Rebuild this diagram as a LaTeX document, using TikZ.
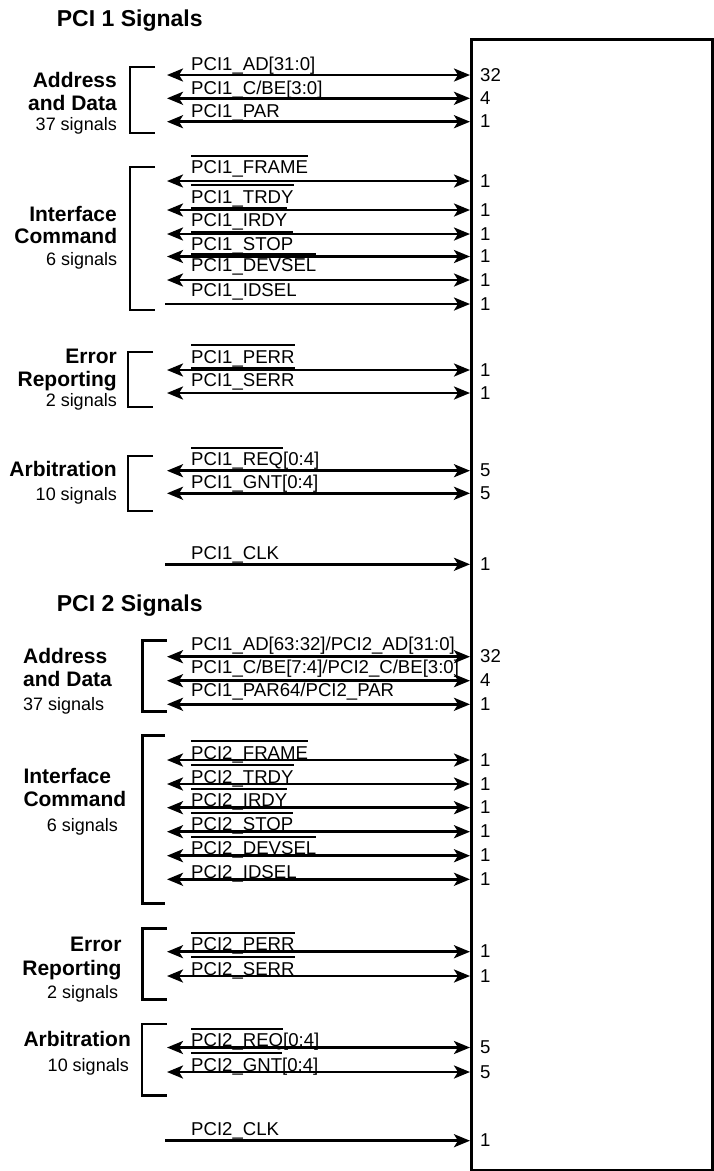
\documentclass[tikz,border=0pt]{standalone}
\usepackage{fontspec}
\setmainfont{Liberation Sans}
\usetikzlibrary{arrows.meta}
\newsavebox\olbox
\newcommand\olt[1]{\sbox\olbox{#1}\rlap{\rule[16.7pt]{\wd\olbox}{1.9pt}}\usebox\olbox}
% double-headed signal row: name, y, label, label baseline, width number
\newcommand\drow[5]{%
  \coordinate (#1) at (167,#2);
  \draw[bidir] (#1) -- (#1 -| box.west);
  \node[sig] (#1t) at (191,#4) {#3};
  \node[num] (#1n) at (480,#2+6) {#5};}
% input-only signal row
\newcommand\srow[5]{%
  \coordinate (#1) at (165,#2);
  \draw[unidir] (#1) -- (#1 -| box.west);
  \node[sig] (#1t) at (191,#4) {#3};
  \node[num] (#1n) at (480,#2+6) {#5};}
\begin{document}
\begin{tikzpicture}[x=1pt,y=-1pt,
  sig/.style={anchor=base west,inner sep=0pt,font=\fontsize{18.6}{20}\selectfont},
  num/.style={anchor=base west,inner sep=0pt,font=\fontsize{18.6}{20}\selectfont},
  grp/.style={inner sep=0pt,font=\fontsize{21}{24}\selectfont\bfseries},
  cnt/.style={inner sep=0pt,font=\fontsize{18}{20}\selectfont},
  ttl/.style={anchor=base west,inner sep=0pt,font=\fontsize{23}{26}\selectfont\bfseries},
  tip/.tip={Stealth[length=16pt,width=13pt,inset=4pt]},
  bidir/.style={line width=2.6pt,tip-tip},
  unidir/.style={line width=2.6pt,-tip},
  brk/.style={line width=2.6pt},
]
\useasboundingbox (0,0) rectangle (713,1171);
\node[draw,line width=2.6pt,minimum width=241pt,minimum height=1131pt,anchor=north west,inner sep=0pt] (box) at (470,38) {};

% ---------------- PCI 1 ----------------
\node[ttl] (t1) at (56.7,26) {PCI 1 Signals};

\draw[brk] (155,67) -| (130,133) -- (155,133);
\node[grp,anchor=base east] (g1a) at (117,87) {Address};
\node[grp,anchor=base east] (g1b) at (117,110) {and Data};
\node[cnt,anchor=base east] (g1c) at (117,130) {37 signals};
\drow{a1}{75}{PCI1\_AD[31:0]}{70.7}{32}
\drow{a2}{98.3}{PCI1\_C/BE[3:0]}{94}{4}
\drow{a3}{121.7}{PCI1\_PAR}{117}{1}

\draw[brk] (155,167) -| (130,310) -- (155,310);
\node[grp,anchor=base east] (g2a) at (117,221.7) {Interface};
\node[grp,anchor=base east] (g2b) at (117.3,243.3) {Command};
\node[cnt,anchor=base east] (g2c) at (117.3,265) {6 signals};
\drow{c1}{181}{\olt{PCI1\_FRAME}}{173.3}{1}
\drow{c2}{210}{\olt{PCI1\_TRDY}}{203}{1}
\drow{c3}{234}{\olt{PCI1\_IRDY}}{226}{1}
\drow{c4}{256.5}{\olt{PCI1\_STOP}}{250}{1}
\drow{c5}{280}{\olt{PCI1\_DEVSEL}}{271.7}{1}
\srow{c6}{304}{PCI1\_IDSEL}{296.7}{1}

\draw[brk] (153,352) -| (128,407) -- (153,407);
\node[grp,anchor=base east] (g3a) at (117,363) {Error};
\node[grp,anchor=base east] (g3b) at (117,386) {Reporting};
\node[cnt,anchor=base east] (g3c) at (117,406) {2 signals};
\drow{e1}{370}{\olt{PCI1\_PERR}}{363}{1}
\drow{e2}{393}{\olt{PCI1\_SERR}}{386}{1}

\draw[brk] (153,456) -| (128,511) -- (153,511);
\node[grp,anchor=base east] (g4a) at (117,476.7) {Arbitration};
\node[cnt,anchor=base east] (g4b) at (117,500) {10 signals};
\drow{r1}{470.7}{\olt{PCI1\_REQ}[0:4]}{465.7}{5}
\drow{r2}{493.3}{\olt{PCI1\_GNT}[0:4]}{488}{5}

\srow{k1}{564.3}{PCI1\_CLK}{559.3}{1}

% ---------------- PCI 2 ----------------
\node[ttl] (t2) at (56.7,611) {PCI 2 Signals};

\draw[brk] (166.7,640.7) -| (142.7,711.7) -- (166.7,711.7);
\node[grp,anchor=base west] (h1a) at (23,663) {Address};
\node[grp,anchor=base west] (h1b) at (23,686.7) {and Data};
\node[cnt,anchor=base west] (h1c) at (23,710) {37 signals};
\drow{A1}{656.7}{PCI1\_AD[63:32]/PCI2\_AD[31:0]}{650}{32}
\drow{A2}{680.7}{PCI1\_C/BE[7:4]/PCI2\_C/BE[3:0]}{673.3}{4}
\drow{A3}{704.3}{PCI1\_PAR64/PCI2\_PAR}{696.7}{1}

\draw[brk] (165,735.7) -| (142.7,903.3) -- (165,903.3);
\node[grp,anchor=base west] (h2a) at (23.3,783.3) {Interface};
\node[grp,anchor=base west] (h2b) at (23.3,806.7) {Command};
\node[cnt,anchor=base west] (h2c) at (46.7,831.7) {6 signals};
\drow{C1}{760}{\olt{PCI2\_FRAME}}{759}{1}
\drow{C2}{784}{\olt{PCI2\_TRDY}}{783}{1}
\drow{C3}{807.7}{\olt{PCI2\_IRDY}}{806.7}{1}
\drow{C4}{831.7}{\olt{PCI2\_STOP}}{830.7}{1}
\drow{C5}{855.7}{\olt{PCI2\_DEVSEL}}{854.7}{1}
\drow{C6}{879.3}{PCI2\_IDSEL}{878.3}{1}

\draw[brk] (166.7,928.3) -| (142.7,999.3) -- (166.7,999.3);
\node[grp,anchor=base east] (h3a) at (121.7,951.7) {Error};
\node[grp,anchor=base east] (h3b) at (121.7,975) {Reporting};
\node[cnt,anchor=base east] (h3c) at (118.3,998.3) {2 signals};
\drow{E1}{951.7}{\olt{PCI2\_PERR}}{950.7}{1}
\drow{E2}{976}{\olt{PCI2\_SERR}}{975}{1}

\draw[brk] (167,1024) -| (142,1095.7) -- (167,1095.7);
\node[grp,anchor=base west] (h4a) at (23.3,1046.7) {Arbitration};
\node[cnt,anchor=base east] (h4b) at (129,1071.7) {10 signals};
\drow{R1}{1047.5}{\olt{PCI2\_REQ}[0:4]}{1046.5}{5}
\drow{R2}{1072}{\olt{PCI2\_GNT}[0:4]}{1071}{5}

\srow{K1}{1140.7}{PCI2\_CLK}{1135}{1}
\end{tikzpicture}
\end{document}
